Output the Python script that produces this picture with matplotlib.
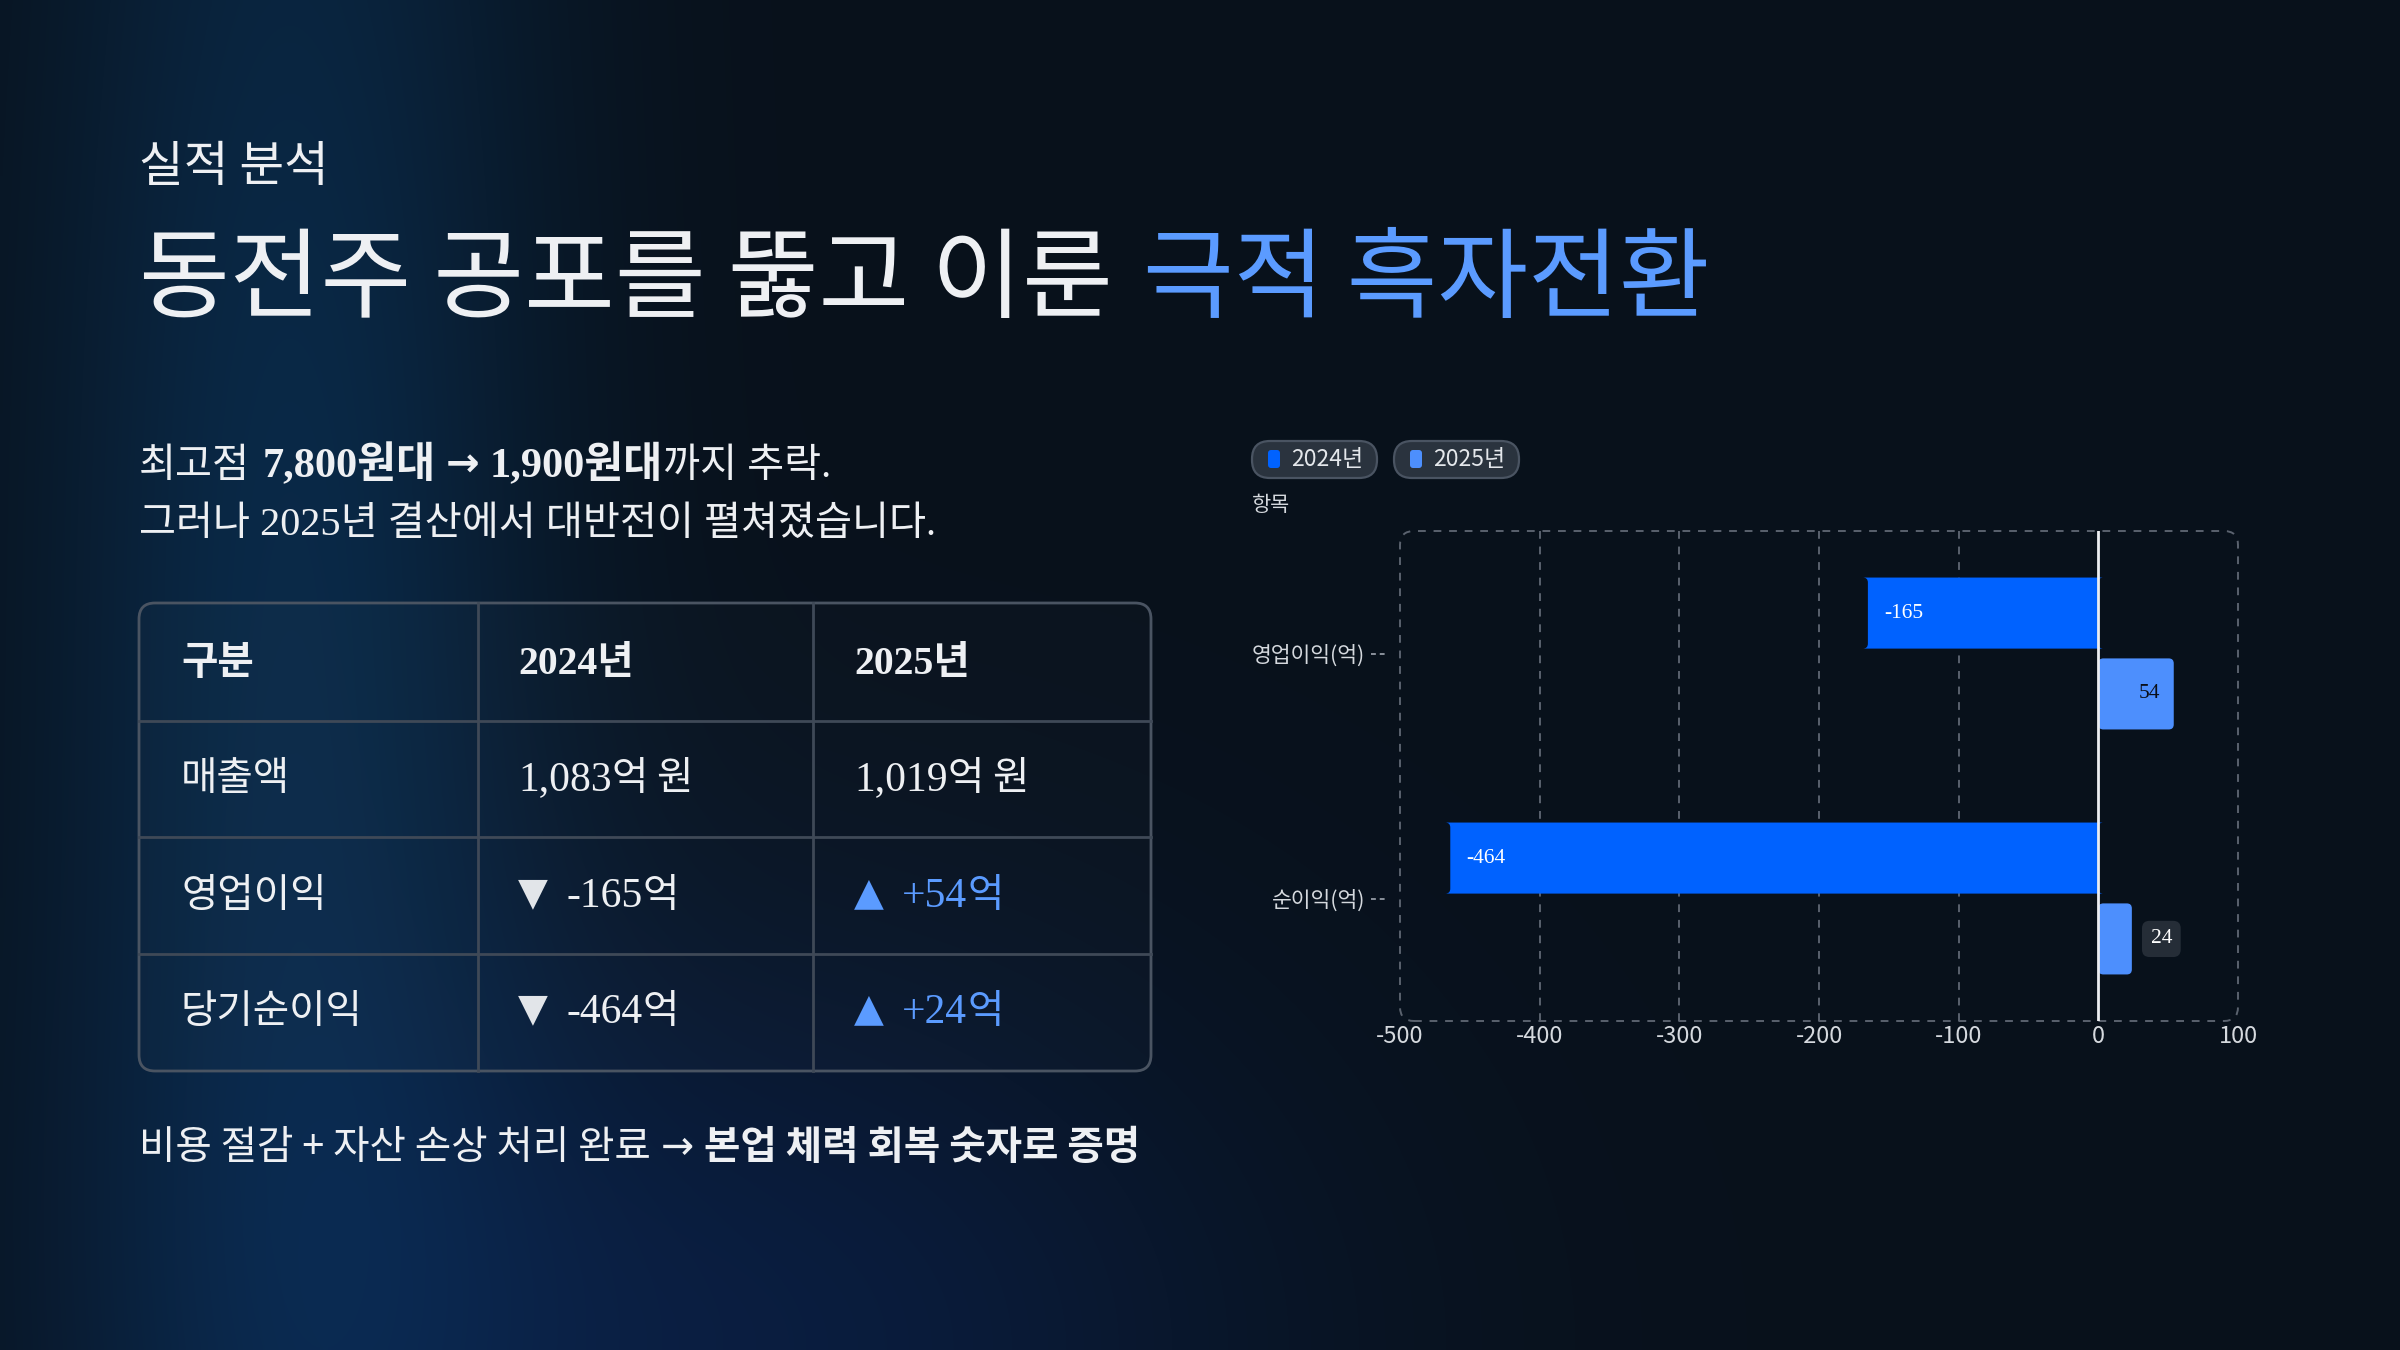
import numpy as np
import matplotlib
matplotlib.use("Agg")
import matplotlib.pyplot as plt
from matplotlib.patches import FancyBboxPatch
from matplotlib.lines import Line2D
import matplotlib.transforms as mtransforms

# ---------------- data ----------------
kicker = "실적 분석"
title_main = "동전주 공포를 뚫고 이룬"
title_hl = "극적 흑자전환"
price_peak = "7,800원대"
price_low = "1,900원대"

table_header = ["구분", "2024년", "2025년"]
table_rows = ["매출액", "영업이익", "당기순이익"]
revenue = [1083, 1019]
op_income = [-165, 54]
net_income = [-464, 24]

categories = ["영업이익(억)", "순이익(억)"]
series_names = ["2024년", "2025년"]
vals_2024 = [-165, -464]
vals_2025 = [54, 24]
x_ticks = [-500, -400, -300, -200, -100, 0, 100]
y_title = "항목"

# ---------------- style ----------------
W, H = 2400, 1350
WHITE = "#eef0f3"
BLUE_HL = "#5b9bff"
C2024 = "#0062ff"
C2025 = "#4d8ffd"
GRID = "#5a626e"
LINE = "#3f4957"
SANS = ["Noto Sans CJK KR", "DejaVu Sans"]
MIX = ["Liberation Serif", "Noto Sans CJK KR", "DejaVu Sans"]
ARROW = ["Noto Sans", "DejaVu Sans"]

plt.rcParams["font.family"] = SANS

fig = plt.figure(figsize=(24, 13.5), dpi=100)
renderer = fig.canvas.get_renderer()

# overlay axes in pixel units (y down)
ov = fig.add_axes([0, 0, 1, 1], zorder=0)
ov.set_xlim(0, W)
ov.set_ylim(H, 0)
ov.axis("off")

# background gradient
gx = np.linspace(0, 1, 480)[None, :]
gy = np.linspace(0, 1, 270)[:, None]
base = np.array([8, 17, 27]) / 255.0
g1 = np.exp(-((gx - 0.12) ** 2) / (2 * 0.075 ** 2)) * (0.55 + 0.45 * np.exp(-((gy - 0.45) ** 2) / (2 * 0.45 ** 2)))
g2 = np.exp(-((gx - 0.30) ** 2) / (2 * 0.16 ** 2) - ((gy - 1.0) ** 2) / (2 * 0.22 ** 2))
img = base[None, None, :] + g1[..., None] * (np.array([2, 24, 44]) / 255.0) + g2[..., None] * (np.array([2, 12, 36]) / 255.0)
img = np.clip(img, 0, 1)
ov.imshow(img, extent=(0, W, H, 0), aspect="auto", interpolation="bilinear", zorder=0)


def segs(x, y, parts, size):
    for p in parts:
        if isinstance(p, (int, float)):
            x += p
            continue
        s, kw = p
        kw = dict(kw)
        fs = kw.pop("size", size)
        t = ov.text(x, y, s, fontsize=fs, va="baseline", ha="left", zorder=5, **kw)
        x += t.get_window_extent(renderer).width
    return x


# ---------------- headings ----------------
ov.text(139, 181, kicker, fontsize=35, color=WHITE, va="baseline", ha="left", family=SANS)
segs(139, 310, [(title_main, dict(color=WHITE, family=SANS, weight="medium")), 30,
                (title_hl, dict(color=BLUE_HL, family=SANS, weight="medium"))], 71)

segs(139, 477, [("최고점", dict(color=WHITE, family=MIX)), 13,
                (price_peak, dict(color=WHITE, family=MIX, weight="bold", size=30.5)), 10,
                ("→", dict(color=WHITE, family=ARROW, weight="bold")), 10,
                (price_low, dict(color=WHITE, family=MIX, weight="bold", size=30.5)),
                ("까지 추락.", dict(color=WHITE, family=MIX))], 29)
segs(139, 535, [("그러나 2025년 결산에서 대반전이 펼쳐졌습니다.", dict(color=WHITE, family=MIX))], 29)

# ---------------- table ----------------
tx0, tx1 = 139, 1151
ty = [603, 721, 837, 954, 1071]
cx = [139, 478, 813, 1151]
ov.add_patch(FancyBboxPatch((tx0, ty[0]), tx1 - tx0, ty[-1] - ty[0],
                            boxstyle="round,pad=0,rounding_size=16",
                            facecolor=(1, 1, 1, 0.015), edgecolor="#4a5462", lw=2, zorder=2))
for yy in ty[1:-1]:
    ov.add_line(Line2D([tx0, tx1], [yy, yy], color=LINE, lw=2, zorder=3))
for xx in cx[1:-1]:
    ov.add_line(Line2D([xx, xx], [ty[0], ty[-1]], color=LINE, lw=2, zorder=3))

text_x = [181, 518, 854]
base_y = [674, 790, 907, 1023]
TS = 28.5
for j, h in enumerate(table_header):
    segs(text_x[j], base_y[0], [(h, dict(color=WHITE, family=MIX, weight="bold"))], TS)

rows = [revenue, op_income, net_income]
for i, (lab, vals) in enumerate(zip(table_rows, rows)):
    yb = base_y[i + 1]
    segs(text_x[0], yb, [(lab, dict(color=WHITE, family=MIX))], TS)
    for j, v in enumerate(vals):
        xx = text_x[j + 1]
        if i == 0:
            segs(xx, yb, [(f"{v:,}", dict(color=WHITE, family=MIX, size=30)),
                          ("억", dict(color=WHITE, family=MIX)), 8,
                          ("원", dict(color=WHITE, family=MIX))], TS)
        else:
            if v < 0:
                tri, col, tcol = "▼", "#e2e5e9", WHITE
                s = f"-{abs(v)}"
            else:
                tri, col, tcol = "▲", BLUE_HL, BLUE_HL
                s = f"+{v}"
            segs(xx, yb - 3, [(tri, dict(color=col, family=["DejaVu Sans"]))], 28)
            segs(xx + 48, yb, [(s, dict(color=tcol, family=MIX, size=30)),
                               ("억", dict(color=tcol, family=MIX))], TS)

segs(139, 1159, [("비용 절감 + 자산 손상 처리 완료", dict(color=WHITE, family=SANS)), 10,
                 ("→", dict(color=WHITE, family=ARROW)), 10,
                 ("본업 체력 회복 숫자로 증명", dict(color=WHITE, family=SANS, weight="bold"))], 28.5)

# ---------------- legend pills ----------------
pill_x = [1252, 1394]
for px, name, c in zip(pill_x, series_names, [C2024, C2025]):
    ov.add_patch(FancyBboxPatch((px, 441), 125, 37, boxstyle="round,pad=0,rounding_size=18",
                                facecolor="#2a333e", edgecolor="#4a5462", lw=1.6, zorder=3))
    ov.add_patch(FancyBboxPatch((px + 16, 450), 12, 18, boxstyle="round,pad=0,rounding_size=3",
                                facecolor=c, edgecolor="none", zorder=4))
    ov.text(px + 39, 460, name, fontsize=16.5, color="#e4e7eb", va="center", ha="left", family=SANS, zorder=5)

ov.text(1252, 505, y_title, fontsize=15, color="#d5d9de", va="center", ha="left", family=SANS)

# ---------------- chart ----------------
ax = fig.add_axes([1400 / W, 1 - 1021 / H, 838 / W, 490 / H], zorder=2)
ax.set_facecolor("none")
y = np.arange(len(categories))
off, bh = 0.165, 0.29
b1 = ax.barh(y - off, vals_2024, height=bh, color=C2024, zorder=3)
b2 = ax.barh(y + off, vals_2025, height=bh, color=C2025, zorder=3)
ax.set_xlim(x_ticks[0], x_ticks[-1])
ax.set_ylim(len(categories) - 0.5, -0.5)

# rounded bars from the bar geometry
xr = (x_ticks[-1] - x_ticks[0]) / 838.0
yr = (len(categories)) / 490.0
for cont in (b1, b2):
    for r in cont:
        r.set_visible(False)
        ax.add_patch(FancyBboxPatch((r.get_x(), r.get_y()), r.get_width(), r.get_height(),
                                    boxstyle=f"round,pad=0,rounding_size={5 * xr}",
                                    mutation_aspect=yr / xr, facecolor=r.get_facecolor(),
                                    edgecolor="none", zorder=3))

for xt in x_ticks[1:-1]:
    if xt != 0:
        ax.axvline(xt, color=GRID, lw=1.4, ls=(0, (4, 4)), zorder=1)
ax.axvline(0, color="#eceef1", lw=2, zorder=4)
ax.add_patch(FancyBboxPatch((0, 0), 1, 1, transform=ax.transAxes,
                            boxstyle=f"round,pad=0,rounding_size={14 / 838}",
                            mutation_aspect=838 / 490, facecolor="none", edgecolor=GRID,
                            lw=1.4, ls=(0, (4, 4)), zorder=1, clip_on=False))
for s in ax.spines.values():
    s.set_visible(False)
ax.set_xticks(x_ticks)
ax.set_xticklabels([str(t) for t in x_ticks])
ax.set_yticks(y)
ax.set_yticklabels(categories)
ax.tick_params(axis="x", length=0, pad=3, labelsize=17, labelcolor="#d5d9de")
ax.tick_params(axis="y", length=0, pad=25, labelsize=15.5, labelcolor="#d5d9de")
for lbl in ax.get_xticklabels() + ax.get_yticklabels():
    lbl.set_family(SANS)
blend = mtransforms.blended_transform_factory(ax.transAxes, ax.transData)
for yy in y:
    ax.add_line(Line2D([-0.0346, -0.0179], [yy, yy], transform=blend, color="#8a919b",
                       lw=1.4, ls=(0, (2.5, 2)), clip_on=False))

# value labels
for yy, v in zip(y - off, vals_2024):
    ax.annotate(f"{v}", (v, yy), xytext=(11.5, 0), textcoords="offset points",
                ha="left", va="center", fontsize=15.5, color="white", family=MIX, zorder=6)
for yy, v in zip(y + off, vals_2025):
    if v >= 40:
        ax.annotate(f"{v}", (v, yy), xytext=(-10, 0), textcoords="offset points",
                    ha="right", va="center", fontsize=15.5, color="#0a0f18", family=MIX, zorder=6)
    else:
        ax.annotate(f"{v}", (v, yy), xytext=(13.5, 0), textcoords="offset points",
                    ha="left", va="center", fontsize=15.5, color="white", family=MIX, zorder=6,
                    bbox=dict(boxstyle="round,pad=0.4,rounding_size=0.35", fc="#252d37", ec="none"))

fig.savefig("out.png", dpi=100)
